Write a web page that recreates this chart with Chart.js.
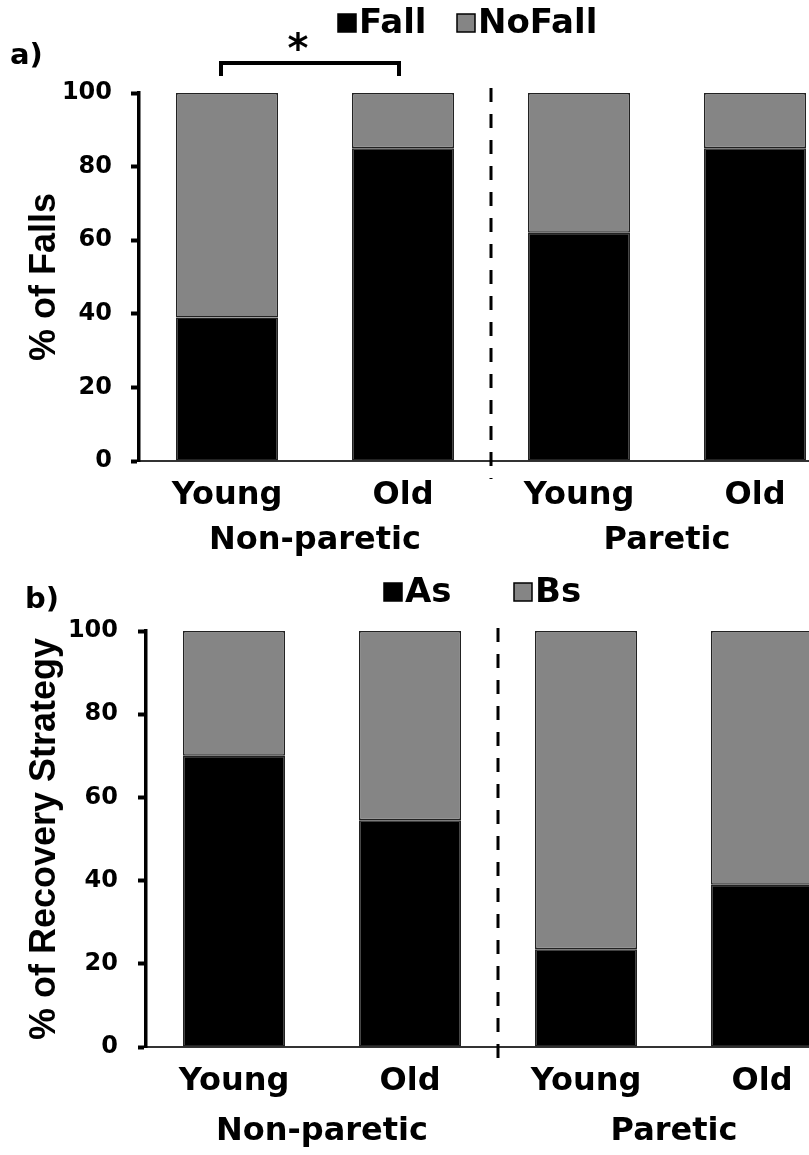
<!DOCTYPE html>
<html>
<head>
<meta charset="utf-8">
<script src="https://cdn.jsdelivr.net/npm/chart.js@4.4.1/dist/chart.umd.min.js"></script>
<style>
  html, body { margin: 0; padding: 0; background: #fff; overflow: hidden; }
  body { width: 809px; height: 1155px; position: relative; }
  .panel { position: absolute; left: 0; width: 870px; }
  #panelA { top: 0; height: 577px; }
  #panelB { top: 577px; height: 578px; }
</style>
</head>
<body>
<div class="panel" id="panelA"><canvas id="chartA"></canvas></div>
<div class="panel" id="panelB"><canvas id="chartB"></canvas></div>
<script>
// categories
const groups = ["Young", "Old", "Young", "Old"];
const sides = ["Non-paretic", "Paretic"];
const yTicks = [0, 20, 40, 60, 80, 100];

// a) falls (%)
const fallNames = ["Fall", "NoFall"];
const fall = [39, 85, 62, 85];
const noFall = [61, 15, 38, 15];

// b) recovery strategy (%)
const stratNames = ["As", "Bs"];
const stratAs = [70, 54.5, 23.5, 39];
const stratBs = [30, 45.5, 76.5, 61];

Chart.defaults.font.family = "'DejaVu Sans', sans-serif";
Chart.defaults.font.weight = "bold";
Chart.defaults.color = "#000";

// divider, legend, panel letter and significance bracket
const panelMarks = {
  id: "panelMarks",
  afterDraw(chart, args, o) {
    const { ctx, chartArea, scales: { x } } = chart;
    ctx.save();

    const xd = x.getPixelForValue(1.5);
    ctx.strokeStyle = "#000";
    ctx.lineWidth = 3;
    ctx.setLineDash([14, 12]);
    ctx.beginPath();
    ctx.moveTo(xd, chartArea.top - o.dashAbove);
    ctx.lineTo(xd, chartArea.bottom + o.dashBelow);
    ctx.stroke();
    ctx.setLineDash([]);

    ctx.font = "bold 34px 'DejaVu Sans'";
    ctx.textBaseline = "middle";
    ctx.textAlign = "left";
    chart.data.datasets.forEach((ds, i) => {
      const bx = o.legendX[i], by = o.legendY - 9;
      ctx.fillStyle = ds.backgroundColor;
      ctx.fillRect(bx, by, 18, 18);
      ctx.lineWidth = 1.5;
      ctx.strokeStyle = "#000";
      ctx.strokeRect(bx, by, 18, 18);
      ctx.fillStyle = "#000";
      ctx.fillText(ds.label, bx + 21, o.legendY + 1);
    });

    ctx.font = "bold 29px 'DejaVu Sans'";
    ctx.textBaseline = "alphabetic";
    ctx.fillText(o.letter, o.letterX, o.letterY);

    if (o.bracket) {
      const b = o.bracket;
      const x0 = x.getPixelForValue(b.from) - 6;
      const x1 = x.getPixelForValue(b.to) - 4;
      ctx.lineWidth = 4;
      ctx.lineJoin = "miter";
      ctx.beginPath();
      ctx.moveTo(x0, b.y + b.drop);
      ctx.lineTo(x0, b.y);
      ctx.lineTo(x1, b.y);
      ctx.lineTo(x1, b.y + b.drop);
      ctx.stroke();
      ctx.font = "bold 40px 'DejaVu Sans'";
      ctx.textAlign = "center";
      const m = ctx.measureText("*");
      ctx.fillText("*", (x0 + x1) / 2 + b.starDx,
        b.starY + (m.actualBoundingBoxAscent - m.actualBoundingBoxDescent) / 2);
    }
    ctx.restore();
  }
};

function makeChart(id, c) {
  const bar = { barPercentage: 0.58, categoryPercentage: 1.0, borderColor: "#222", borderWidth: 1.5, borderSkipped: false };
  return new Chart(document.getElementById(id), {
    type: "bar",
    data: {
      labels: groups,
      datasets: [
        Object.assign({ label: c.names[0], data: c.lower, backgroundColor: "#000" }, bar),
        Object.assign({ label: c.names[1], data: c.upper, backgroundColor: "#858585" }, bar)
      ]
    },
    options: {
      responsive: true,
      maintainAspectRatio: false,
      animation: false,
      layout: { padding: { left: 0, right: c.padRight, top: c.top, bottom: c.padBottom } },
      plugins: { legend: { display: false }, tooltip: { enabled: false }, panelMarks: c.marks },
      scales: {
        x: {
          stacked: true,
          weight: 0,
          grid: { display: false, drawTicks: false },
          border: { color: "#333", width: 2 },
          ticks: { font: { size: 32 }, padding: 15, maxRotation: 0, autoSkip: false },
          afterFit: s => { s.height = 55; }
        },
        x2: {
          type: "category",
          labels: sides,
          position: "bottom",
          offset: true,
          weight: 1,
          grid: { display: false, drawTicks: false },
          border: { display: false },
          ticks: { font: { size: 32 }, padding: c.sidePad, maxRotation: 0, autoSkip: false },
          afterFit: s => { s.height = 50; }
        },
        y: {
          stacked: true,
          min: 0,
          max: 100,
          afterBuildTicks: s => { s.ticks = yTicks.map(v => ({ value: v })); },
          ticks: { font: { size: 24 }, padding: c.tickPad },
          grid: { drawOnChartArea: false, tickLength: 8, tickWidth: 4, color: "#000" },
          border: { color: "#000", width: 3.5 },
          title: {
            display: true,
            text: c.yTitle,
            font: { family: "'Liberation Sans', Arial, sans-serif", weight: "bold", size: 36 },
            padding: { top: 23, bottom: 0 }
          },
          afterFit: s => { s.width = c.left; }
        }
      }
    },
    plugins: [panelMarks]
  });
}

makeChart("chartA", {
  names: fallNames, lower: fall, upper: noFall, yTitle: "% of Falls",
  left: 139, padRight: 27, top: 93, padBottom: 11, tickPad: 19, sidePad: 5,
  marks: {
    dashAbove: 5, dashBelow: 18, legendX: [338, 457], legendY: 23,
    letter: "a)", letterX: 10, letterY: 64,
    bracket: { from: 0, to: 1, y: 63, drop: 13, starDx: -12, starY: 41 }
  }
});

makeChart("chartB", {
  names: stratNames, lower: stratAs, upper: stratBs, yTitle: "% of Recovery Strategy",
  left: 146, padRight: 20, top: 54, padBottom: 3, tickPad: 20, sidePad: 10,
  marks: {
    dashAbove: 3, dashBelow: 16, legendX: [384, 514], legendY: 15,
    letter: "b)", letterX: 25, letterY: 31
  }
});
</script>
</body>
</html>
